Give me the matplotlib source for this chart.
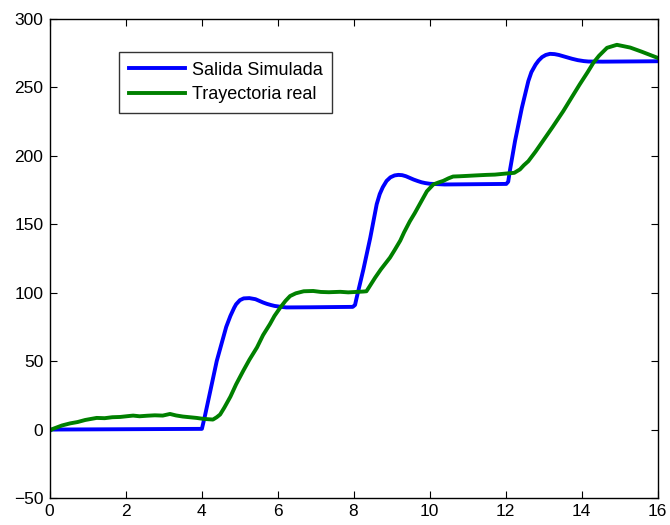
import matplotlib
matplotlib.use("Agg")
import matplotlib.pyplot as plt

plt.rcParams['font.family'] = ['Liberation Sans', 'DejaVu Sans']

# Salida simulada (azul)
t_sim = [0, 4.01, 4.09, 4.23, 4.40, 4.57, 4.65, 4.76, 4.86, 4.91, 5.01, 5.11, 5.26,
         5.42, 5.52, 5.62, 5.72, 5.82, 5.92, 6.07, 6.23, 6.84, 7.98, 8.04, 8.08, 8.26,
         8.44, 8.61, 8.69, 8.77, 8.87, 8.97, 9.08, 9.18, 9.28, 9.38, 9.48, 9.58, 9.69, 9.79,
         9.89, 10.01, 10.40, 12.02, 12.07, 12.12, 12.25, 12.43, 12.60, 12.68, 12.79,
         12.87, 12.96, 13.06, 13.17, 13.29, 13.40, 13.55, 13.65, 13.75, 13.90, 14.06,
         14.18, 14.56, 16.0]
y_sim = [0, 0.5, 10, 28, 50, 67, 75, 83, 89, 91.5, 94.5, 95.8, 96,
         95.2, 94, 92.8, 91.8, 91, 90.3, 89.7, 89.2, 89.3, 89.6, 91, 96, 117,
         140, 164.6, 172, 177, 181.6, 184.2, 185.6, 186, 185.8, 185, 183.8, 182.6, 181.5, 180.6,
         180, 179.5, 179, 179.4, 181, 190, 210.7, 235, 254.5, 261, 266.5,
         269.5, 272, 273.6, 274.4, 274.2, 273.6, 272.4, 271.6, 270.8, 269.8, 269.1,
         268.8, 268.7, 269]

# Trayectoria real (verde)
t_real = [0, 0.09, 0.33, 0.54, 0.74, 0.94, 1.24, 1.45, 1.65, 1.86, 2.06, 2.20, 2.37,
          2.57, 2.77, 2.98, 3.17, 3.33, 3.51, 3.69, 3.87, 4.05, 4.30, 4.40, 4.49, 4.60,
          4.76, 4.91, 5.10, 5.26, 5.46, 5.62, 5.80, 5.92, 6.07, 6.21, 6.33, 6.48, 6.69,
          6.94, 7.14, 7.35, 7.65, 7.86, 8.06, 8.26, 8.34, 8.41, 8.57, 8.72, 8.96, 9.08, 9.23,
          9.33, 9.48, 9.61, 9.75, 9.93, 10.10, 10.24, 10.36, 10.50, 10.62, 10.80,
          11.01, 11.21, 11.50, 11.72, 12.02, 12.23, 12.38, 12.48, 12.60, 12.79, 13.04,
          13.24, 13.52, 13.75, 13.95, 14.16, 14.31, 14.46, 14.67, 14.93, 15.28, 15.58, 16.0]
y_real = [-1, 0.5, 3, 4.5, 5.5, 7, 8.5, 8.3, 9, 9.2, 9.8, 10.2, 9.7,
          10.1, 10.4, 10.2, 11.4, 10.3, 9.5, 9, 8.5, 7.8, 7.3, 9, 11, 16,
          24, 33, 43, 51, 60, 69, 77, 83, 89, 94, 97.5, 99.5, 101,
          101.2, 100.5, 100.3, 100.6, 100.2, 100.5, 100.8, 101, 104, 111, 117, 125.6, 131, 138,
          144, 152, 158, 165, 174, 179, 180.5, 181.6, 183.5, 184.8, 185,
          185.3, 185.6, 186, 186.2, 187, 187.5, 190, 193, 196, 203, 213,
          221, 232.6, 243, 252, 261, 267.8, 273, 278.8, 281, 279, 276, 271.5]

fig = plt.figure(figsize=(6.7, 5.25), dpi=100)
ax = fig.add_axes([0.0739, 0.0514, 0.9075, 0.9128])

ax.plot(t_sim, y_sim, color='#0000ff', lw=2.8, label='Salida Simulada')
ax.plot(t_real, y_real, color='#008000', lw=2.8, label='Trayectoria real')

ax.set_xlim(0, 16)
ax.set_ylim(-50, 300)
ax.set_xticks(range(0, 17, 2))
ax.set_yticks(range(-50, 301, 50))
ax.set_yticklabels(['\u221250'] + [str(v) for v in range(0, 301, 50)])
ax.tick_params(direction='in', top=True, right=True, labelsize=12.5, length=5, pad=4.5)
for s in ax.spines.values():
    s.set_linewidth(1.0)

leg = ax.legend(loc='upper left', bbox_to_anchor=(0.1148, 0.9314), fontsize=13,
                frameon=True, fancybox=False, edgecolor='black', handlelength=3.1,
                borderaxespad=0, borderpad=0.55, labelspacing=0.4, handletextpad=0.35)
leg.get_frame().set_linewidth(1.0)

fig.savefig('out.png', dpi=100)
